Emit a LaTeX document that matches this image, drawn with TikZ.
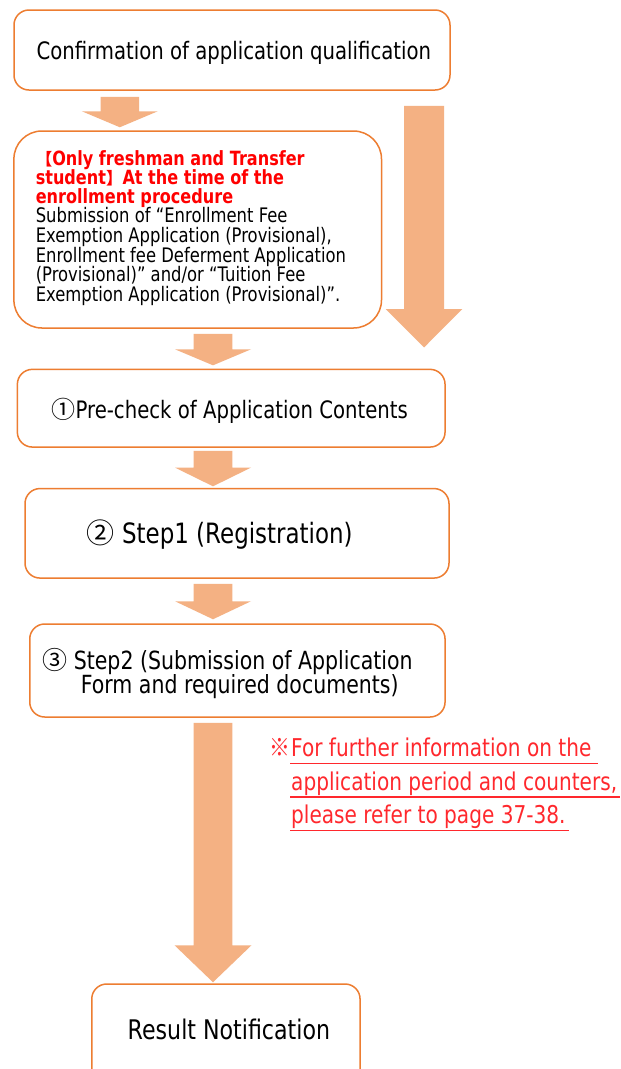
\documentclass[tikz,border=0pt]{standalone}
\usepackage{fontspec}
\setmainfont{DejaVu Sans}[FakeStretch=0.82]
\newfontfamily\cjk{Noto Sans CJK JP}
\newfontfamily\cjkn{Noto Sans CJK JP}[FakeStretch=0.85]
\usetikzlibrary{calc}
\definecolor{boxline}{RGB}{237,125,49}
\definecolor{arrowfill}{RGB}{244,177,131}
\definecolor{headred}{RGB}{255,0,0}
\definecolor{notered}{RGB}{255,40,45}
\newcommand{\fsz}[1]{\fontsize{#1}{#1}\selectfont}
\newcommand{\blockarrow}[5]{%
  \fill[arrowfill] ($(#1)+(-#3,0)$) -- ($(#1)+(#3,0)$) -- ($(#2)+(#3,-#5)$)
    -- ($(#2)+(#4,-#5)$) -- (#2) -- ($(#2)+(-#4,-#5)$) -- ($(#2)+(-#3,-#5)$) -- cycle;}
\newcommand{\lenbr}[1]{{\fsz{16.5}\cjk #1}}
\tikzset{
  flowbox/.style={draw=boxline, line width=1.5pt, rounded corners=15pt, fill=white,
    inner sep=0pt, rectangle},
  boxtext/.style={inner sep=0pt, anchor=base, text=black},
  linetext/.style={inner sep=0pt, anchor=base west},
  redhead/.style={linetext, text=headred, font=\fsz{19.6}\bfseries, text height=13pt, text depth=3pt},
  blackline/.style={linetext, text=black, font=\fsz{20}, text height=14pt, text depth=4pt},
  noteline/.style={linetext, text=notered, font=\fsz{24.5}},
  noterule/.style={draw=notered, line width=1.3pt}
}
\begin{document}
\begin{tikzpicture}[x=1pt, y=-1pt]
\useasboundingbox (0,0) rectangle (621,1069);
\fill[white] (0,0) rectangle (621,1069);

% boxes
\node[flowbox, minimum width=436pt, minimum height=80pt] (box1) at (232,50) {};
\node[flowbox, rounded corners=28pt, minimum width=367.6pt, minimum height=197pt] (box2) at (197.7,229.5) {};
\node[flowbox, minimum width=427.7pt, minimum height=77.7pt] (box3) at (231.2,408.2) {};
\node[flowbox, minimum width=424pt, minimum height=89.5pt] (box4) at (237,533.3) {};
\node[flowbox, minimum width=415.3pt, minimum height=93pt] (box5) at (237.4,670.5) {};
\begin{scope}
\clip (0,0) rectangle (621,1069);
\node[flowbox, minimum width=268.3pt, minimum height=106pt] (box6) at (225.9,1037) {};
\end{scope}

% box texts
\node[boxtext, font=\fsz{24}] (t1) at (233.8,59.3) {Confirmation of application qualification};
\node[boxtext, font=\fsz{24}] (t3) at (229.7,418.3) {{\cjk ①}Pre-check of Application Contents};
\node[boxtext, font=\fsz{28}] (t4) at (219.7,543.3) {{\cjk ②} Step1 (Registration)};
\node[boxtext, font=\fsz{25}] (t5a) at (227.5,669.5) {{\cjk ③} Step2 (Submission of Application};
\node[boxtext, font=\fsz{25}] (t5b) at (239.7,693) {Form and required documents)};
\node[boxtext, font=\fsz{27}] (t6) at (228.9,1039.3) {Result Notification};

% box 2 lines
\node[redhead] (r1) at (35.6,165.3) {\lenbr{【}Only freshman and Transfer};
\node[redhead] (r2) at (35.6,184.5) {student\lenbr{】}At the time of the};
\node[redhead] (r3) at (35.6,203.6) {enrollment procedure};
\node[blackline] (b1) at (35.6,222.7) {Submission of “Enrollment Fee};
\node[blackline] (b2) at (35.6,242.4) {Exemption Application (Provisional),};
\node[blackline] (b3) at (35.6,262.1) {Enrollment fee Deferment Application};
\node[blackline] (b4) at (35.6,281.8) {(Provisional)” and/or “Tuition Fee};
\node[blackline] (b5) at (35.6,301.5) {Exemption Application (Provisional)”.};

% note
\node[noteline] (n1) at (291,756.7) {For further information on the};
\node[noteline] (n2) at (291,790) {application period and counters,};
\node[noteline] (n3) at (291,823.3) {please refer to page 37-38.};
\node[inner sep=0pt, anchor=base east, text=notered, font=\fsz{24.5}\cjkn] (nm) at (n1.base west) {※};
\draw[noterule] ([yshift=-7pt,xshift=-1pt]n1.base west) -- ([yshift=-7pt,xshift=6pt]n1.base east);
\draw[noterule] ([yshift=-7pt,xshift=-1pt]n2.base west) -- ([yshift=-7pt,xshift=3pt]n2.base east);
\draw[noterule] ([yshift=-7pt,xshift=-1pt]n3.base west) -- ([yshift=-7pt,xshift=3pt]n3.base east);

% arrow coordinates
\coordinate (a1s) at ($(box1.south)+(-112.2,6)$);
\coordinate (a1e) at ($(a1s |- box2.north)+(0,-3)$);
\coordinate (bs) at ($(box1.south east)+(-26.7,15)$);
\coordinate (be) at ($(bs |- box2.south)+(0,18.7)$);
\coordinate (a2s) at ($(box2.south)+(15.3,5)$);
\coordinate (a2e) at ($(a2s |- box3.north)+(0,-3.3)$);
\coordinate (a3s) at ($(box3.south -| a2s)+(0,3)$);
\coordinate (a3e) at ($(a3s |- box4.north)+(0,-1.5)$);
\coordinate (a4s) at ($(box4.south -| a2s)+(0,5)$);
\coordinate (a4e) at ($(a4s |- box5.north)+(0,-4)$);
\coordinate (a5s) at ($(box5.south -| a2s)+(0,5)$);
\coordinate (a5e) at ($(a5s |- box6.north)+(0,-1)$);

% block arrows
\blockarrow{a1s}{a1e}{19.3}{38}{16}
\blockarrow{bs}{be}{20}{38.3}{38.4}
\blockarrow{a2s}{a2e}{19.3}{38}{16}
\blockarrow{a3s}{a3e}{19.3}{38}{18.7}
\blockarrow{a4s}{a4e}{19.3}{38}{18}
\blockarrow{a5s}{a5e}{19.3}{38.5}{37}
\end{tikzpicture}
\end{document}
